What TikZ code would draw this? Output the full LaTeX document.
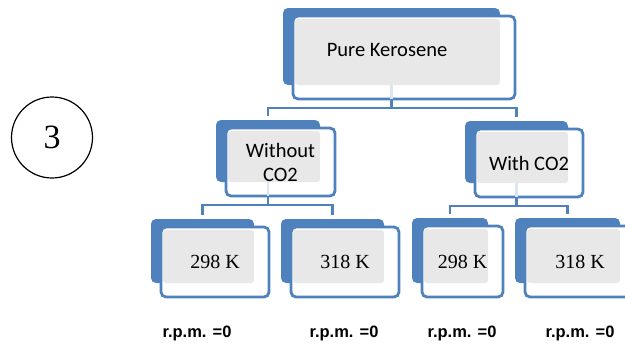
\documentclass[tikz,border=0pt]{standalone}
\usepackage{fontspec}
\setmainfont{Liberation Serif}
\newfontfamily\calfont{Carlito}
\newfontfamily\arialfont{Liberation Sans}
\usetikzlibrary{backgrounds}

\definecolor{kblue}{HTML}{4F81BD}
\definecolor{kgray}{HTML}{E8E8E8}
\tikzstyle{panel} = [draw=kblue, line width=2.8pt, rounded corners=5pt, fill=white, inner sep=0pt, outer sep=0pt, align=center,
	path picture={\fill[kgray, rounded corners=3pt] ([xshift=2pt,yshift=-3pt]path picture bounding box.north west) rectangle ([xshift=-15pt,yshift=14pt]path picture bounding box.south east);}]

\begin{document}
\begin{tikzpicture}[x=1pt, y=-1pt,
			word/.style={panel, font=\calfont\fontsize{20.5}{24}\selectfont},
			temp/.style={panel, font=\fontsize{20}{24}\selectfont},
			link/.style={draw=kblue, line width=2.8pt},
			stub/.style={draw=kblue!20, line width=2.8pt},
			rpm/.style={font=\arialfont\bfseries\fontsize{16.5}{20}\selectfont}]
			\useasboundingbox (0,0) rectangle (625,349);
			\clip (0,0) rectangle (625,349);
			
			\node (c) [draw, circle, line width=1.2pt, minimum size=81pt, inner sep=0pt, font=\fontsize{34}{34}\selectfont] at (52,137.5) {3};
			
			\node (1) [word, minimum width=222pt, minimum height=83pt,
				label={[font=\calfont\fontsize{20.5}{24}\selectfont, xshift=-17pt, yshift=7.5pt]center:Pure Kerosene}] at (404,57.5) {};
			\node (2) [word, minimum width=109pt, minimum height=68pt] at (280.5,162) {Without\\CO2};
			\node (3) [word, minimum width=108pt, minimum height=68pt] at (529,163) {With CO2};
			\node (4) [temp, minimum width=108pt, minimum height=70pt] at (215,262) {298 K};
			\node (5) [temp, minimum width=108pt, minimum height=70pt] at (345,262) {318 K};
			\node (6) [temp, minimum width=81pt, minimum height=71pt] at (462.5,261.5) {298 K};
			\node (7) [temp, minimum width=110pt, minimum height=71pt] at (580,261.5) {318 K};
			
			\begin{scope}[on background layer]
				\foreach \n in {1,...,7}
					\fill[kblue, rounded corners=5pt] ([xshift=-10pt,yshift=8pt]\n.north west) rectangle ([xshift=-15pt,yshift=14pt]\n.south east);
			\end{scope}
			
			\foreach \p in {1,2,3}
				\draw[stub] ([xshift=-12.5pt,yshift=14pt]\p.south) -- ([xshift=-12.5pt]\p.south);
			\foreach \p/\c in {1/2,1/3,2/4,2/5,3/6,3/7}
				\draw[link] ([xshift=-12.5pt]\p.south) -- ++(0,9) -| ([xshift=-12.5pt,yshift=12pt]\c.north);
			
			\node (r4) [rpm] at (197,333) {r.p.m. =0};
			\node (r5) [rpm] at (344,333) {r.p.m. =0};
			\node (r6) [rpm] at (462,333) {r.p.m. =0};
			\node (r7) [rpm] at (580,333) {r.p.m. =0};
		\end{tikzpicture}
\end{document}
